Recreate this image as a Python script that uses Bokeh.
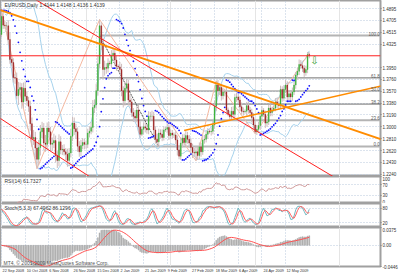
import pandas as pd
from bokeh.plotting import figure
from bokeh.layouts import column
from bokeh.models import (FixedTicker, Grid, Label, Span, ColumnDataSource,
                          PrintfTickFormatter, Range1d, LinearAxis)
from bokeh.embed import file_html
from bokeh.resources import INLINE

# ---------------- data ----------------
closes = [
    1.4770, 1.4630, 1.4620, 1.4620, 1.4400, 1.4080, 1.4030, 1.3790, 1.3780, 1.3500,
    1.3600, 1.3630, 1.3400, 1.3620, 1.3490, 1.3420, 1.3330, 1.3050, 1.2810, 1.2830,
    1.2660, 1.2480, 1.2670, 1.2920, 1.2980, 1.2740, 1.2720, 1.2980, 1.2920, 1.2720,
    1.2740, 1.2780, 1.2540, 1.2460, 1.2760, 1.2630, 1.2640, 1.2600, 1.2560, 1.2460,
    1.2580, 1.2850, 1.3060, 1.2970, 1.2920, 1.2690, 1.2600, 1.2700, 1.2750, 1.2720,
    1.2720, 1.2900, 1.2930, 1.2990, 1.3310, 1.3350, 1.3580, 1.4010, 1.4620, 1.4340,
    1.3920, 1.3950, 1.3940, 1.4020, 1.4010, 1.4140, 1.4180, 1.4070, 1.3970, 1.3960,
    1.3920, 1.3580, 1.3420, 1.3620, 1.3690, 1.3430, 1.3400, 1.3230, 1.3170, 1.3140,
    1.3270, 1.3000, 1.2880, 1.2960, 1.3000, 1.2980, 1.2950, 1.3170, 1.3170, 1.3170,
    1.2950, 1.2800, 1.2760, 1.2900, 1.2880, 1.2830, 1.2950, 1.2960, 1.2990, 1.2860,
    1.2900, 1.2870, 1.2870, 1.2790, 1.2630, 1.2530, 1.2740, 1.2820, 1.2750, 1.2860,
    1.2800, 1.2740, 1.2670, 1.2590, 1.2580, 1.2600, 1.2540, 1.2680, 1.2600, 1.2790,
    1.2800, 1.2880, 1.2930, 1.2920, 1.2930, 1.3030, 1.3330, 1.3670, 1.3580, 1.3630,
    1.3500, 1.3560, 1.3560, 1.3270, 1.3200, 1.3160, 1.3250, 1.3200, 1.3470, 1.3480,
    1.3430, 1.3320, 1.3250, 1.3240, 1.3250, 1.3340, 1.3270, 1.3230, 1.3150, 1.3030,
    1.2920, 1.2960, 1.3020, 1.3170, 1.3260, 1.3200, 1.3060, 1.3080, 1.3300, 1.3230,
    1.3270, 1.3300, 1.3400, 1.3360, 1.3340, 1.3600, 1.3460, 1.3600, 1.3670, 1.3480,
    1.3530, 1.3480, 1.3560, 1.3670, 1.3830, 1.3890, 1.4000, 1.3980, 1.3940, 1.3870,
    1.3920, 1.4160, 1.4139,
]
first_open = 1.4480
# wick lengths in pips (upper / lower)
wick_up = [
    97, 80, 70, 60, 90, 110, 80, 70, 60, 90,
    120, 80, 70, 90, 110, 80, 60, 90, 100, 120,
    90, 80, 120, 110, 100, 80, 130, 90, 100, 80,
    90, 110, 80, 70, 120, 90, 70, 80, 60, 90,
    80, 120, 100, 90, 80, 70, 80, 90, 70, 60,
    60, 70, 80, 90, 120, 90, 110, 130, 100, 60,
    90, 110, 70, 80, 40, 90, 80, 60, 70, 30,
    80, 90, 70, 100, 80, 70, 90, 60, 70, 100,
    60, 80, 90, 40, 70, 80, 60, 80, 70, 90,
    70, 60, 90, 70, 60, 80, 60, 40, 70, 50,
    60, 50, 40, 60, 70, 80, 90, 60, 70, 80,
    60, 70, 80, 60, 70, 90, 80, 70, 60, 80,
    70, 60, 50, 30, 60, 70, 90, 68, 80, 70,
    60, 70, 50, 80, 40, 60, 70, 80, 60, 70,
    50, 60, 70, 60, 30, 60, 70, 50, 60, 70,
    60, 70, 60, 50, 70, 40, 60, 80, 50, 60,
    50, 40, 60, 70, 50, 60, 50, 70, 80, 60,
    60, 50, 70, 60, 50, 60, 80, 70, 60, 50,
    60, 40, 30,
]
wick_dn = [
    40, 60, 50, 70, 80, 70, 60, 80, 90, 60,
    150, 90, 110, 100, 70, 80, 90, 110, 130, 100,
    150, 150, 90, 130, 100, 110, 120, 100, 90, 110,
    100, 80, 110, 120, 90, 70, 80, 60, 90, 100,
    90, 70, 80, 100, 110, 90, 80, 70, 60, 80,
    70, 60, 70, 50, 80, 90, 60, 80, 70, 110,
    150, 100, 90, 70, 30, 70, 80, 90, 70, 30,
    60, 90, 110, 80, 70, 90, 80, 70, 90, 60,
    70, 90, 60, 30, 80, 70, 60, 70, 80, 60,
    90, 70, 60, 80, 70, 60, 50, 30, 60, 70,
    50, 60, 50, 70, 90, 50, 60, 70, 50, 60,
    70, 80, 60, 90, 60, 124, 70, 60, 80, 50,
    60, 50, 70, 30, 60, 50, 60, 80, 90, 70,
    80, 60, 70, 60, 30, 70, 60, 50, 60, 70,
    60, 70, 50, 60, 30, 70, 60, 50, 80, 60,
    30, 50, 60, 70, 50, 40, 80, 60, 50, 60,
    60, 30, 50, 60, 70, 50, 60, 50, 60, 70,
    50, 60, 70, 50, 60, 70, 60, 50, 60, 70,
    50, 60, 40,
]
date_ticks = [0, 14, 28, 42, 56, 70, 84, 98, 112, 126, 140, 154, 168]
date_labels = ["22 Sep 2008", "10 Oct 2008", "6 Nov 2008", "26 Nov 2008", "15 Dec 2008",
               "2 Jan 2009", "21 Jan 2009", "9 Feb 2009", "27 Feb 2009", "18 Mar 2009",
               "6 Apr 2009", "24 Apr 2009", "12 May 2009"]
price_ticks = [1.4895, 1.4705, 1.4515, 1.4325, 1.3950, 1.3760, 1.3570, 1.3380,
               1.3190, 1.3000, 1.2810, 1.2620, 1.2430, 1.2240]
price_range = (1.2204, 1.5025)
current_price = 1.4139
title_text = "EURUSD,Daily  1.4144 1.4148 1.4136 1.4139"

# hand-drawn objects (anchor bar, anchor price)
orange_down = ([0, 127], [1.4865, 1.3697])
orange_up = ([108, 226], [1.2942, 1.3663])
red_a = ([26, 195], [1.4945, 1.2221])
red_b = ([-1, 51], [1.3140, 1.2221])
fib_anchor = ([58, 93], [1.4464, 1.2685])
fib_levels = [100.0, 61.8, 50.0, 38.2, 23.6, 0.0]
zigzag_bars = [0, 21, 58, 115, 127, 150, 182]
zigzag_kind = ["h", "l", "h", "l", "h", "l", "h"]
signal_bar, signal_price = 185, 1.4063

rsi_ticks = [100, 70, 30, 0]
stoch_ticks = [80, 20]
macd_range = (-0.0446, 0.0375)
macd_ticks = [0.0375, 0.0, -0.0446]
macd_tick_text = {0.0375: "0.0375", 0.0: "0.00", -0.0446: "-0.0446"}

# ---------------- derived series ----------------
n = len(closes)
bars = list(range(n))
opens = [first_open] + closes[:-1]
highs = [max(o, c) + u / 10000 for o, c, u in zip(opens, closes, wick_up)]
lows = [min(o, c) - d / 10000 for o, c, d in zip(opens, closes, wick_dn)]
s = pd.Series(closes)

mid = s.rolling(20, min_periods=3).mean()
sd = s.rolling(20, min_periods=3).std(ddof=0)
bb_up, bb_lo = mid + 2 * sd, mid - 2 * sd

def psar(h, l, step=0.02, amax=0.2):
    out = [h[0]]
    bull, af, ep = False, step, l[0]
    for i in range(1, len(h)):
        prev = out[-1]
        v = prev + af * (ep - prev)
        if bull:
            v = min(v, l[i - 1], l[max(i - 2, 0)])
            if l[i] < v:
                bull, v, ep, af = False, ep, l[i], step
            elif h[i] > ep:
                ep, af = h[i], min(af + step, amax)
        else:
            v = max(v, h[i - 1], h[max(i - 2, 0)])
            if h[i] > v:
                bull, v, ep, af = True, ep, h[i], step
            elif l[i] < ep:
                ep, af = l[i], min(af + step, amax)
        out.append(v)
    return out

sar = psar(highs, lows)

d = s.diff()
rs = d.clip(lower=0).ewm(alpha=1 / 14, adjust=False).mean() / (-d.clip(upper=0)).ewm(alpha=1 / 14, adjust=False).mean()
rsi = 100 - 100 / (1 + rs)

hh = pd.Series(highs).rolling(5, min_periods=1).max()
ll = pd.Series(lows).rolling(5, min_periods=1).min()
stk = 100 * (s - ll).rolling(3, min_periods=1).sum() / (hh - ll).rolling(3, min_periods=1).sum()
std_ = stk.rolling(3, min_periods=1).mean()

macd = s.ewm(span=12, adjust=False).mean() - s.ewm(span=26, adjust=False).mean()
macd_sig = macd.rolling(9, min_periods=1).mean()

# ---------------- layout ----------------
W = 400
RB = 18
PX_PER_BAR = 1.7
x0 = -1 / PX_PER_BAR
xr = Range1d(x0, x0 + (W - RB) / PX_PER_BAR)
FONT = "Liberation Sans"
GRID_COL = "#b8c8dc"
AX_FONT = "4.5px"

def make_fig(h, yr, ticks, fmt=None, overrides=None):
    p = figure(width=W, height=h, x_range=xr, y_range=Range1d(*yr), output_backend="svg",
               toolbar_location=None, x_axis_location=None, y_axis_location="right")
    p.min_border_left = 0
    p.min_border_right = RB
    p.min_border_top = 0
    p.min_border_bottom = 0
    p.outline_line_color = "#a0a0a0"
    p.outline_line_width = 2
    p.background_fill_color = "white"
    p.border_fill_color = "white"
    ax = p.yaxis[0]
    ax.ticker = FixedTicker(ticks=ticks)
    if fmt:
        ax.formatter = PrintfTickFormatter(format=fmt)
    if overrides:
        ax.major_label_overrides = overrides
    ax.major_label_text_font_size = AX_FONT
    ax.major_label_text_font = FONT
    ax.major_label_text_color = "#333333"
    ax.major_label_standoff = 1
    ax.major_tick_out = 1
    ax.major_tick_in = 0
    ax.major_tick_line_color = "#808080"
    ax.minor_tick_line_color = None
    ax.axis_line_color = None
    p.ygrid.grid_line_color = GRID_COL
    p.ygrid.grid_line_dash = "1 2"
    p.add_layout(Grid(dimension=0, ticker=FixedTicker(ticks=date_ticks),
                      grid_line_color=GRID_COL, grid_line_dash="1 2"))
    return p

def ext(anchor, xa, xb):
    (bx0, bx1), (py0, py1) = anchor
    k = (py1 - py0) / (bx1 - bx0)
    return [xa, xb], [py0 + k * (xa - bx0), py0 + k * (xb - bx0)]

def title(p, text, h):
    p.add_layout(Label(x=4, y=h - 1, x_units="screen", y_units="screen", text=text,
                       text_font=FONT, text_font_size="5px", text_color="#333333",
                       text_baseline="top"))

# ---- main price panel ----
H1 = 176
p1 = make_fig(H1, price_range, price_ticks, fmt="%.4f")
title(p1, title_text, H1)
xend = xr.end + 5

# fibonacci
fa_x, fa_y = fib_anchor
rng = fa_y[0] - fa_y[1]
fib_col = {100.0: ("#b4b4b4", 2), 61.8: ("#707070", 1), 50.0: ("#8a8a8a", 1),
           38.2: ("#707070", 1), 23.6: ("#b4b4b4", 2), 0.0: ("#b4b4b4", 2)}
for lv in fib_levels:
    py = fa_y[1] + rng * lv / 100
    c, w = fib_col[lv]
    p1.line([fa_x[0], xend], [py, py], line_color=c, line_width=w)
    p1.add_layout(Label(x=xr.end - 0.5, y=py, text="%.1f" % lv, text_align="right",
                        text_baseline="bottom", text_font=FONT, text_font_size="4.5px",
                        text_color="#606060"))
p1.line(fa_x, fa_y, line_color="#505050", line_width=1, line_dash="2 1")

# bollinger
p1.line(bars, bb_up, line_color="#a6d2ec", line_width=1)
p1.line(bars, bb_lo, line_color="#a6d2ec", line_width=1)

# zigzag
zz_y = [highs[b] if k == "h" else lows[b] for b, k in zip(zigzag_bars, zigzag_kind)]
p1.line(zigzag_bars, zz_y, line_color="#f4b8a0", line_width=1)

# candles
body_top = [max(o, c) for o, c in zip(opens, closes)]
body_bot = [min(o, c) for o, c in zip(opens, closes)]
body_col = ["#30b030" if c >= o else "#9a1a1a" for o, c in zip(opens, closes)]
src = ColumnDataSource(dict(x=bars, hi=highs, lo=lows, top=body_top, bot=body_bot, col=body_col))
p1.segment(x0="x", y0="lo", x1="x", y1="hi", source=src, line_color="#cdbcbc", line_width=1)
p1.vbar(x="x", width=0.5, top="top", bottom="bot", source=src, fill_color="col",
        line_color="col", line_width=0.4)

# parabolic SAR
p1.scatter(bars, sar, size=1.8, color="#1010ff", line_width=0)

# trend lines
for anc, col, lw, xa in [(orange_down, "#ff8c00", 2, -2), (red_a, "#ff2020", 1, -20),
                         (red_b, "#ff2020", 1, -20), (orange_up, "#ff8c00", 1.5, orange_up[0][0])]:
    lx, ly = ext(anc, xa, xend)
    p1.line(lx, ly, line_color=col, line_width=lw)

# current price line + label
p1.add_layout(Span(location=current_price, dimension="width", line_color="#ff2020", line_width=1))
p1.add_layout(Label(x=W - RB + 1, y=current_price, x_units="screen", text="%.4f" % current_price,
                    text_font=FONT, text_font_size=AX_FONT, text_color="white",
                    background_fill_color="#ff0000", text_baseline="middle"))
p1.add_layout(Label(x=signal_bar, y=signal_price, text="\u21e9", text_font="DejaVu Sans",
                    text_font_size="10px", text_color="#30a030", text_align="center",
                    text_baseline="middle"))

# ---- RSI ----
H2 = 27
p2 = make_fig(H2, (0, 100), rsi_ticks, fmt="%d")
p2.line(bars, rsi, line_color="#d09a9a", line_width=1)
title(p2, "RSI(14) 61.7327", H2)

# ---- Stochastic ----
H3 = 24
p3 = make_fig(H3, (0, 100), stoch_ticks, fmt="%d")
p3.line(bars, stk, line_color="#70b8c0", line_width=1)
p3.line(bars, std_, line_color="#ff6060", line_width=1)
title(p3, "Stoch(5,3,3) 67.4962 86.1296", H3)

# ---- MACD ----
H4 = 48
p4 = make_fig(H4, macd_range, macd_ticks, overrides=macd_tick_text)
p4.vbar(x=bars, width=0.5, top=macd, bottom=0, fill_color="#a8a8a8", line_color="#a8a8a8",
        line_width=0.5)
p4.line(bars, macd_sig, line_color="#ff5050", line_width=1)
p4.add_layout(Label(x=3, y=1, x_units="screen", y_units="screen",
                    text="MT4, \u00a9 2001-2009 MetaQuotes Software Corp.",
                    text_font=FONT, text_font_size="5px", text_color="#555555"))

# date axis: MetaTrader writes each date to the right of its bar, so the (centred)
# axis labels are placed half a label width to the right of the date's bar
DATE_FONT_PX = 3.8
label_pos = [t + round(len(lbl) * 0.26 * DATE_FONT_PX / PX_PER_BAR + 0.5)
             for t, lbl in zip(date_ticks, date_labels)]
xax = LinearAxis(ticker=FixedTicker(ticks=label_pos),
                 major_label_overrides={pos: lbl for pos, lbl in zip(label_pos, date_labels)})
xax.major_label_text_font_size = "%.1fpx" % DATE_FONT_PX
xax.major_label_text_font = FONT
xax.major_label_text_color = "#333333"
xax.major_label_standoff = 2
xax.major_tick_out = 0
xax.major_tick_in = 0
xax.major_tick_line_color = None
xax.minor_tick_line_color = None
xax.axis_line_color = None
p4.add_layout(xax, "below")

layout = column(p1, p2, p3, p4, spacing=0)
open("out.html", "w").write(file_html(layout, INLINE))
